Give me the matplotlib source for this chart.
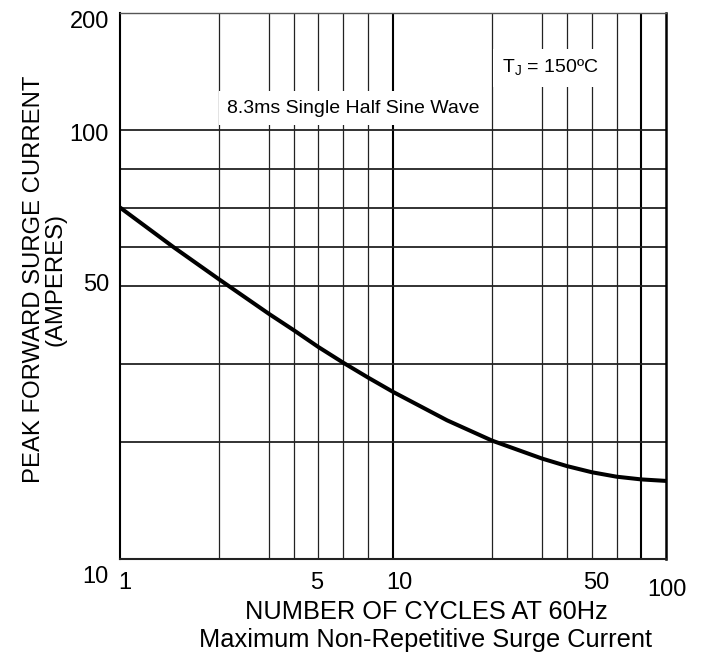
import matplotlib

matplotlib.use("Agg")
import matplotlib.pyplot as plt
import numpy as np

plt.rcParams["font.family"] = ["Liberation Sans", "DejaVu Sans"]

# surge curve
cycles = [1, 1.45, 2, 3, 4, 5, 6, 7, 10, 14.6, 20, 30, 40, 50, 60, 70, 100]
surge_amps = [70, 60, 51.55, 41.6, 37.4, 33.5, 30.25, 27.93, 25.94, 22.35,
              20.1, 18.09, 17.31, 16.69, 16.26, 16.0, 15.86]

x_ticks = [1, 5, 10, 50, 100]
y_ticks = [10, 50, 100, 200]
x_grid = [2, 3, 4, 5, 6, 7, 10, 20, 30, 40, 50, 60, 70]
y_grid = [20, 30, 50, 60, 70, 80, 100]
x_heavy = [10, 70]

# the printed chart paper is not a true log grid, so map the ruled
# lines onto their measured spacing (piecewise in log10)
x_nodes = np.log10([1, 2, 3, 4, 5, 6, 7, 10, 20, 30, 40, 50, 60, 70, 100])
x_pos = np.array([0, 99, 149, 173.7, 198.3, 223, 248, 272.7,
                  372, 422, 446.7, 471.7, 496.3, 521, 545.7])
y_nodes = np.log10([10, 20, 30, 50, 60, 70, 80, 100, 200])
y_pos = np.array([0, 117.3, 195, 273, 312, 351.3, 390, 429, 545.7])


def paper_scale(nodes, pos):
    def fwd(v):
        v = np.log10(np.clip(np.asarray(v, dtype=float), 1e-9, None))
        return np.interp(v, nodes, pos, left=pos[0] - 1e3, right=pos[-1] + 1e3)

    def inv(p):
        return 10 ** np.interp(p, pos, nodes)

    return fwd, inv


def main() -> None:
    fig = plt.figure(figsize=(7.05, 6.61), dpi=100)
    ax = fig.add_axes([120 / 705, 1 - 559 / 661, 546 / 705, 546 / 661])

    ax.set_xscale("function", functions=paper_scale(x_nodes, x_pos))
    ax.set_yscale("function", functions=paper_scale(y_nodes, y_pos))
    ax.set_xlim(1, 100)
    ax.set_ylim(10, 200)

    for gx in x_grid:
        heavy = gx in x_heavy
        ax.axvline(gx, color="black" if heavy else "#222222",
                   lw=1.5 if heavy else 0.9, zorder=1)
    for gy in y_grid:
        ax.axhline(gy, color="#222222", lw=1.3, zorder=1)

    ax.plot(cycles, surge_amps, color="black", lw=2.9, zorder=3,
            solid_joinstyle="round")

    ax.set_xticks(x_ticks)
    ax.set_yticks(y_ticks)
    ax.set_xticklabels([])
    ax.set_yticklabels([])
    ax.xaxis.set_minor_locator(matplotlib.ticker.NullLocator())
    ax.yaxis.set_minor_locator(matplotlib.ticker.NullLocator())
    ax.tick_params(length=0)

    # tick labels sit slightly off their lines on the original
    px = 0.72
    x_off = {1: (5, 0), 5: (-2, 0), 10: (7, 0), 50: (4, 0), 100: (1, -7)}
    for v in x_ticks:
        dx, dy = x_off[v]
        ax.annotate(str(v), xy=(v, 0), xycoords=ax.get_xaxis_transform(),
                    xytext=(dx * px, (dy - 24) * px), textcoords="offset points",
                    ha="center", va="center", fontsize=17)
    y_off = {10: -18, 50: 1, 100: -5, 200: -9}
    for v in y_ticks:
        ax.annotate(str(v), xy=(0, v), xycoords=ax.get_yaxis_transform(),
                    xytext=(-11 * px, y_off[v] * px), textcoords="offset points",
                    ha="right", va="center", fontsize=17)

    for side, lw, col in [("left", 1.5, "black"), ("bottom", 1.5, "#222222"),
                          ("top", 1.0, "#555555"), ("right", 1.8, "black")]:
        ax.spines[side].set_linewidth(lw)
        ax.spines[side].set_color(col)

    box = dict(boxstyle="square,pad=0.45", facecolor="white", edgecolor="none")
    ax.text(0.428, 0.826, "8.3ms Single Half Sine Wave", transform=ax.transAxes,
            ha="center", va="center", fontsize=14, bbox=box, zorder=4)
    ax.text(0.7875, 0.899, r"T$_{\mathregular{J}}$ = 150ºC", transform=ax.transAxes,
            ha="center", va="center", fontsize=14, bbox=box, zorder=4)

    fig.text(45 / 705, 1 - 279 / 661, "PEAK FORWARD SURGE CURRENT\n(AMPERES)",
             rotation=90, ha="center", va="center", multialignment="center",
             linespacing=1.0, fontsize=17.2)
    fig.text(426 / 705, 1 - 612 / 661, "NUMBER OF CYCLES AT 60Hz",
             ha="center", va="center", fontsize=18.3)
    fig.text(426 / 705, 1 - 640 / 661, "Maximum Non-Repetitive Surge Current",
             ha="center", va="center", fontsize=18.3)

    fig.savefig("out.png", dpi=100)


if __name__ == "__main__":
    main()
